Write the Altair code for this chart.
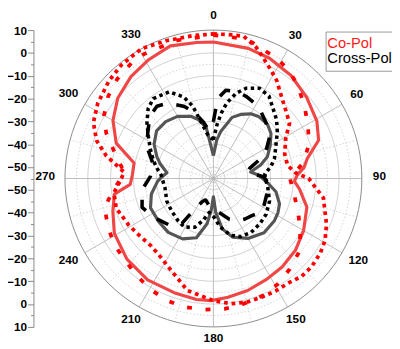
import altair as alt
import pandas as pd

# ---------------- data (angle in degrees, level in dB) ----------------
co_solid_ang = [0, 15, 25, 37, 49, 61, 70, 78, 83, 88, 92, 97, 107, 120, 131, 142, 152, 163, 173, 181, 188,
                199, 213, 227, 241, 252, 261, 266, 273, 281, 290, 300, 310, 321, 331, 342, 353]
co_solid_db = [4.8, 4.0, 3.1, 1.5, -0.9, -3.2, -6.0, -13.0, -15.0, -18.4, -19.5, -17.0, -12.2, -9.4, -7.3, -6.0,
               -5.1, -3.7, -2.6, -1.5, -1.5, -2.1, -2.1, -3.2, -5.4, -8.7, -11.1, -18.5, -19.5, -19.6, -9.7,
               -4.2, -0.3, 2.4, 4.2, 6.1, 5.0]

co_dot_ang = [0, 6, 12, 18, 22, 28, 33, 38, 46, 54, 61, 71, 80, 86, 90, 100, 112, 119, 125, 132, 138, 144,
              151, 158, 165, 172, 180, 193, 205, 214, 223, 233, 241, 253, 262, 268, 274, 282, 288, 295, 303,
              313, 321, 331, 341, 352]
co_dot_db = [8.3, 8.4, 8.7, 5.5, 2.5, -1.3, -4.0, -7.4, -11.2, -13.8, -18.8, -22.0, -22.0, -19.0, -13.3, -6.1,
             -1.6, 0.9, 2.1, 2.8, 2.7, 1.4, 1.3, 1.1, 1.1, 0.4, -1.5, -4.6, -10.8, -13.6, -14.8, -14.0, -12.7,
             -10.5, -11.0, -14.0, -15.8, -7.0, -1.2, 3.0, 5.4, 7.6, 9.0, 10.0, 8.8, 8.2]

co_dash_ang = [0, 10, 16, 21, 27, 35, 42, 51, 60, 70, 80, 90, 101, 113, 122, 130, 140, 149, 157, 167, 175,
               184, 193, 201, 210, 218, 227, 236, 245, 255, 263, 270, 276, 283, 293, 300, 308, 316, 325, 331, 345]
co_dash_db = [7.8, 7.5, 7.0, 5.5, 4.7, 2.8, 0.0, -3.8, -7.3, -10.4, -15.0, -21.5, -19.0, -14.5, -10.2, -5.7,
              -3.1, -0.8, 0.7, 1.5, 2.3, 2.6, 2.7, 2.2, 0.8, -0.8, -2.2, -2.8, -4.1, -5.7, -10.6, -14.5, -15.0,
              -11.3, -4.0, 0.3, 3.5, 5.6, 7.1, 7.4, 7.6]

x_solid_ang = [0, 5, 9, 17, 23, 30, 36, 45, 52, 60, 68, 74, 80, 86, 95, 102, 111, 118, 125, 137, 150, 162,
               170, 176, 180, 184, 188, 196, 207, 220, 232, 245, 256, 267, 272, 277, 285, 291, 300, 310, 320,
               330, 340, 346, 352]
x_solid_db = [-45, -38, -34, -27, -24.5, -22.3, -21.4, -21.5, -23, -26.3, -29.5, -33.5, -38.5, -35, -31, -27,
              -24, -23, -22.5, -22.5, -24.7, -28, -32.6, -40, -47, -41, -35, -28, -25.3, -24.2, -24.5, -24.6,
              -27, -30.5, -32.5, -34.5, -31, -28.5, -25, -22.5, -22.5, -23.6, -26, -28.5, -32.5]

x_dot_ang = [0, 4, 7, 10, 15, 20, 27, 34, 39, 47, 54, 62, 72, 78, 85, 92, 100, 112, 124, 134, 145, 155, 163,
             172, 179, 187, 194, 201, 211, 220, 232, 244, 259, 274, 280, 286, 295, 303, 310, 317, 323, 333,
             340, 344, 348, 353]
x_dot_db = [-38, -31, -26, -21.4, -16.3, -12.9, -10.6, -11.5, -14.1, -17.2, -20.4, -24, -26.9, -29.2, -32.4,
            -32, -30.8, -28.5, -27.1, -26.6, -26.2, -26.9, -29, -33.5, -38, -40, -36, -32.1, -30.2, -30.9,
            -31.8, -32.3, -33.4, -32, -30, -27.8, -24.5, -21, -17, -13.1, -11.2, -12.4, -17, -22, -30, -36]

x_dash_ang = [0, 3, 8, 15, 22, 32, 43, 53, 60, 66, 74, 80, 88, 97, 108, 117, 125, 134, 142, 150, 159, 171,
              185, 200, 205, 211, 215, 223, 237, 248, 261, 272, 283, 295, 306, 315, 322, 329, 338, 344, 350, 355]
x_dash_db = [-30, -20, -16, -15.5, -16.3, -17.8, -21.3, -24.1, -28, -31, -38.4, -40, -33, -30, -30.6, -30,
             -29.3, -31.6, -32.5, -33.5, -36, -40, -42, -45, -44, -40, -31, -27, -23.8, -21.3, -23.4, -27.4,
             -28, -23, -19.5, -16, -14.8, -16.5, -21, -25, -30, -34]

r_ticks_major = [-50, -40, -30, -20, -10, 0, 10]
r_ticks_minor = [-45, -35, -25, -15, -5, 5]
angle_labels = ["0", "30", "60", "90", "120", "150", "180", "210", "240", "270", "300", "330"]
legend_labels = ["Co-Pol", "Cross-Pol"]
legend_colors = ["#ff1a1a", "#000000"]

CENTER_DB = -55.0
PX_PER_UNIT = 303 / 130.0

# ---------------- tables ----------------
def closed(name, ang, db):
    n = len(ang)
    return [{"series": name, "i": k, "ang": ang[k % n], "db": db[k % n]} for k in range(n + 1)]

curves = pd.DataFrame(
    closed("co_solid", co_solid_ang, co_solid_db)
    + closed("co_dot", co_dot_ang, co_dot_db)
    + closed("co_dash", co_dash_ang, co_dash_db)
    + closed("x_solid", x_solid_ang, x_solid_db)
    + closed("x_dot", x_dot_ang, x_dot_db)
    + closed("x_dash", x_dash_ang, x_dash_db)
)

circ_rows = []
for lev in r_ticks_major + r_ticks_minor:
    kind = "outer" if lev == 10 else ("major" if lev in r_ticks_major else "minor")
    for k, a in enumerate(range(0, 361, 3)):
        circ_rows.append({"lev": lev, "kind": kind, "i": k, "ang": a, "db": lev})
circles = pd.DataFrame(circ_rows)

spoke_rows = []
for a in range(0, 360, 15):
    kind = "major" if a % 30 == 0 else "minor"
    for k, lev in enumerate([CENTER_DB, 10]):
        spoke_rows.append({"sp": a, "kind": kind, "i": k, "ang": a, "db": lev})
spokes = pd.DataFrame(spoke_rows)

labels_df = pd.DataFrame({"ang": [int(s) for s in angle_labels], "lab": angle_labels})
legend_df = pd.DataFrame({"lab": legend_labels, "col": legend_colors, "k": [0, 1]})

# ---------------- encodings ----------------
xscale = alt.Scale(domain=[-78.8, 78.2], nice=False, zero=False)
yscale = alt.Scale(domain=[-65, 65], nice=False, zero=False)

ytest = "abs(datum.value) % 10 == 5"
yaxis = alt.Axis(
    values=list(range(-65, 66, 5)),
    labelExpr="abs(datum.value) % 10 == 5 ? format(abs(datum.value) - 55, 'd') : ''",
    tickSize={"condition": {"test": ytest, "value": 6}, "value": 3},
    tickColor="#888888", domainColor="#888888", tickWidth=1, domainWidth=1,
    labelFont="Liberation Sans", labelFontSize=12, labelFontWeight="bold", labelColor="#000000",
    labelPadding=1, labelOverlap=False, grid=False, title=None,
)
X = alt.X("x:Q", scale=xscale, axis=None)
Y = alt.Y("y:Q", scale=yscale, axis=yaxis)

polar = dict(
    r=f"datum.db - ({CENTER_DB})",
    x="datum.r * sin(datum.ang * PI / 180)",
    y="datum.r * cos(datum.ang * PI / 180)",
)

def grid_layer(df, filt, detail, color, width, dash=None):
    kw = dict(color=color, strokeWidth=width)
    if dash:
        kw["strokeDash"] = dash
    return (alt.Chart(df).transform_filter(filt).transform_calculate(**polar)
            .mark_line(**kw).encode(x=X, y=Y, detail=detail, order="i:Q"))

layers = [
    grid_layer(circles, "datum.kind == 'minor'", "lev:N", "#c8c8c8", 0.8, [1.5, 2]),
    grid_layer(spokes, "datum.kind == 'minor'", "sp:N", "#c8c8c8", 0.8, [1.5, 2]),
    grid_layer(circles, "datum.kind == 'major'", "lev:N", "#cccccc", 0.9),
    grid_layer(spokes, "datum.kind == 'major'", "sp:N", "#b5b5b5", 0.9),
    grid_layer(circles, "datum.kind == 'outer'", "lev:N", "#8a8a8a", 1.0),
]

def curve_layer(name, color, width, dash=None):
    kw = dict(color=color, strokeWidth=width, strokeCap="butt", strokeJoin="round")
    if dash:
        kw["strokeDash"] = dash
    return (alt.Chart(curves).transform_filter(f"datum.series == '{name}'")
            .transform_calculate(**polar).mark_line(**kw)
            .encode(x=X, y=Y, order="i:Q"))

layers += [
    curve_layer("x_solid", "#555555", 3.2),
    curve_layer("x_dot", "#000000", 3.6, [3.5, 3.5]),
    curve_layer("x_dash", "#000000", 3.6, [13, 14]),
    curve_layer("co_solid", "#f04646", 3.2),
    curve_layer("co_dot", "#ff0000", 3.8, [3.8, 4]),
    curve_layer("co_dash", "#ff0000", 3.8, [5, 14]),
]

label_layer = (alt.Chart(labels_df)
    .transform_calculate(
        db=f"(165 + abs(sin(datum.ang * PI / 180)) * length(datum.lab) * 2.2) / {PX_PER_UNIT} + ({CENTER_DB})")
    .transform_calculate(**polar)
    .mark_text(font="Liberation Sans", fontSize=12, fontWeight="bold", color="#000000",
               align="center", baseline="middle", dy=-2)
    .encode(x=X, y=Y, text="lab:N"))
layers.append(label_layer)

legend_box = (alt.Chart(legend_df).transform_filter("datum.k == 0")
    .mark_rect(fill="#ffffff", stroke="#999999", strokeWidth=1)
    .encode(x=alt.value(298.7), x2=alt.value(420), y=alt.value(2), y2=alt.value(42)))
layers.append(legend_box)
legend_y = [18.5, 33.5]
for k in range(len(legend_labels)):
    layers.append(
        alt.Chart(legend_df).transform_filter(f"datum.k == {k}")
        .mark_text(font="Liberation Sans", fontSize=15, align="left", baseline="alphabetic",
                   color=legend_colors[k])
        .encode(x=alt.value(300), y=alt.value(legend_y[k]), text="lab:N"))

chart = (alt.layer(*layers)
    .properties(width=366, height=303,
                autosize=alt.AutoSizeParams(type="none"),
                padding={"left": 26, "top": 19, "right": 0, "bottom": 19})
    .configure_view(stroke=None))

chart.save("out.html", embed_options={"renderer": "svg", "actions": False})
